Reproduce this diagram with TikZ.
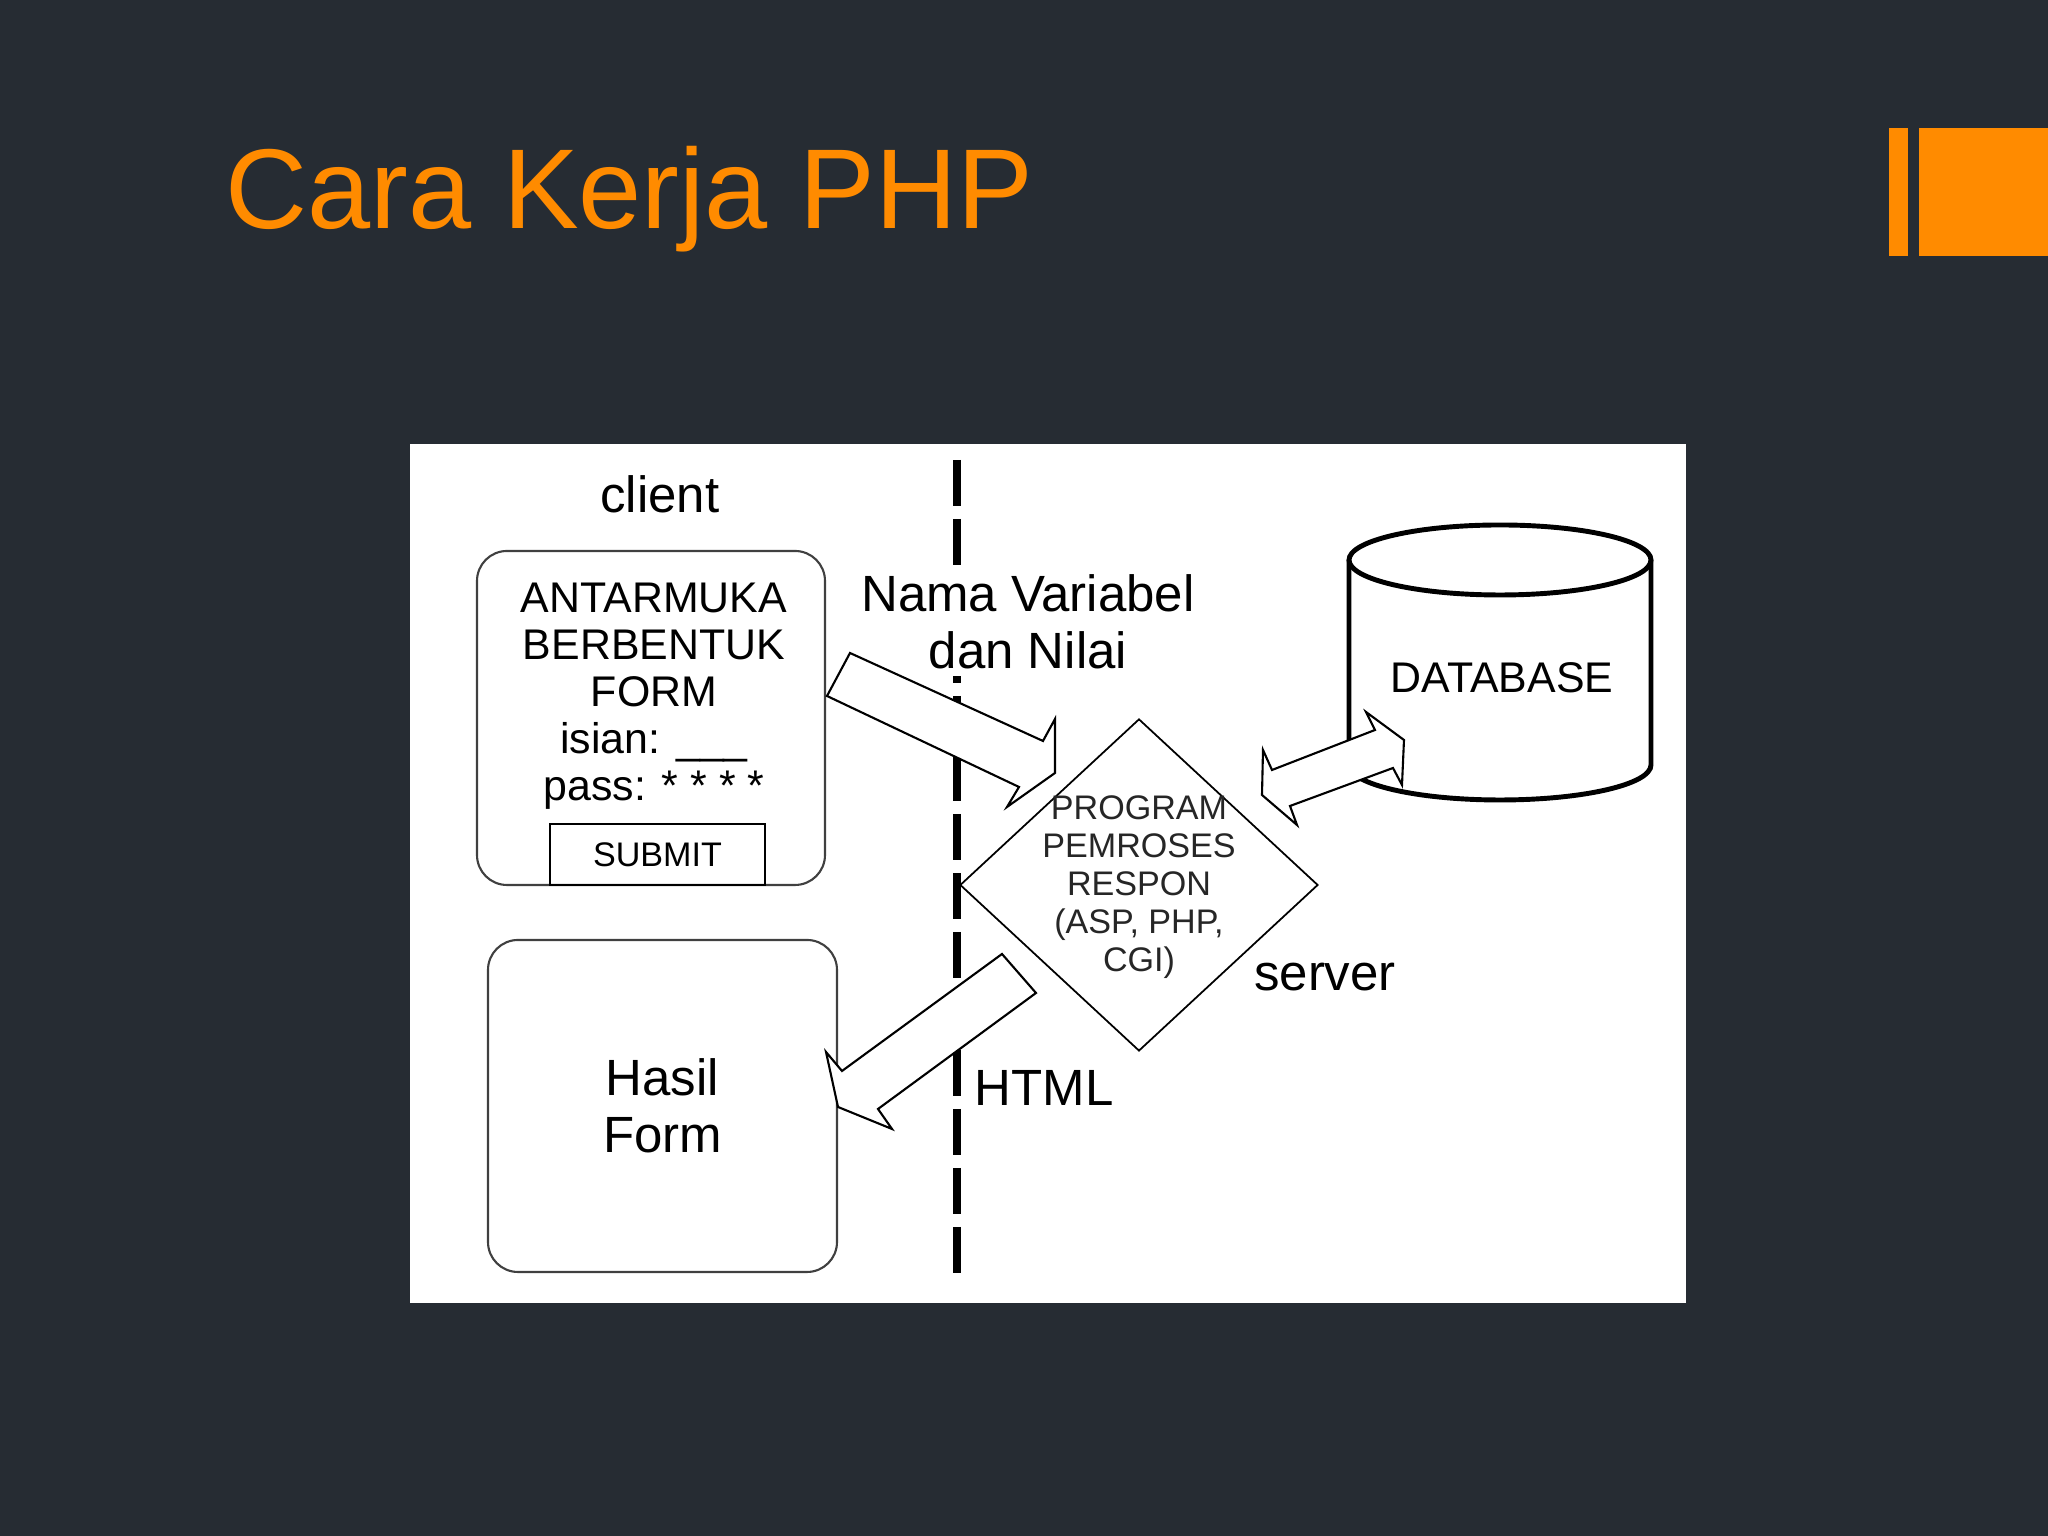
\documentclass[tikz,border=0pt]{standalone}
\usepackage{fontspec}
\setmainfont{Liberation Sans}
\usepackage{xcolor}
\usepackage{tikz}
\usetikzlibrary{positioning,shapes.geometric}
\definecolor{slidebg}{RGB}{38,44,51}
\definecolor{myorange}{RGB}{255,139,0}

\begin{document}
\begin{tikzpicture}[
        rbox/.style={draw=black!75, line width=0.6pt, rounded corners=0.3cm, fill=white},
        lbl/.style={font=\fontsize{14.5}{16.2}\selectfont, align=center, inner sep=2pt},
        formtxt/.style={font=\fontsize{12.2}{13.4}\selectfont, align=center, inner sep=0pt},
        progtxt/.style={font=\fontsize{9.7}{10.8}\selectfont, align=center, inner sep=0pt, text=black!85},
        barrow/.style={draw=black, line width=0.6pt, fill=white, line join=miter},
        cyl/.style={draw=black, line width=1.4pt}
      ]
        \useasboundingbox (0,0) rectangle (20.48,15.36);
        \fill[slidebg] (0,0) rectangle (20.48,15.36);
        % title and corner mark
        \fill[myorange] (18.89,12.80) rectangle (19.08,14.08);
        \fill[myorange] (19.19,12.80) rectangle (20.48,14.08);
        \node[font=\fontsize{32.3}{38}\selectfont, text=myorange, anchor=base west, inner sep=0pt]
              (title) at (2.25,13.07) {Cara Kerja PHP};
        \fill[white] (4.10,2.33) rectangle (16.86,10.92);

        % client / server border
        \coordinate (divtop) at (9.57,10.76);
        \coordinate (divbot) at (9.57,2.59);
        \draw[line width=2pt, dash pattern=on 0.46cm off 0.13cm] (divtop) -- (divbot);

        \node[lbl] (client) at (6.60,10.42) {client};
        \node[rbox, minimum width=3.48cm, minimum height=3.34cm] (form) at (6.51,8.18) {};
        \node[formtxt] (formlbl) at (6.54,8.40)
              {ANTARMUKA\\BERBENTUK\\FORM\\isian: \_\_\_\\pass: * * * *};
        \node[draw, line width=0.6pt, minimum width=2.15cm, minimum height=0.61cm,
              font=\fontsize{9.7}{11}\selectfont, inner sep=0pt] (submit) at (6.575,6.815) {SUBMIT};
        \node[rbox, lbl, minimum width=3.49cm, minimum height=3.32cm] (hasil) at (6.625,4.30) {Hasil\\Form};

        % server side
        \draw[cyl] (13.49,9.76) -- (13.49,7.71)
              arc[start angle=180, end angle=360, x radius=1.51, y radius=0.35] -- (16.51,9.76);
        \draw[cyl] (15.00,9.76) ellipse[x radius=1.51, y radius=0.35];
        \node[formtxt] (db) at (15.02,8.58) {DATABASE};
        \node[diamond, draw, line width=0.5pt, minimum width=3.58cm, minimum height=3.32cm,
              inner sep=0pt] (prog) at (11.39,6.51) {};
        \node[progtxt] (proglbl) at (11.39,6.49) {PROGRAM\\PEMROSES\\RESPON\\(ASP, PHP,\\CGI)};
        \node[lbl] (server) at (13.25,5.59) {server};
        \node[lbl] (html) at (10.44,4.48) {HTML};
        \node[lbl, fill=white] (vars) at (10.28,9.14) {Nama Variabel\\dan Nilai};

        % block arrows
        \draw[barrow] (8.50,8.83) -- (10.43,7.95) -- (10.55,8.17) -- (10.55,7.63)
              -- (10.07,7.29) -- (10.19,7.49) -- (8.27,8.40) -- cycle;
        \draw[barrow] (10.02,5.82) -- (10.36,5.43) -- (8.78,4.27) -- (8.92,4.07)
              -- (8.38,4.29) -- (8.26,4.84) -- (8.42,4.65) -- cycle;
        \draw[barrow] (13.66,8.24) -- (13.75,8.06) -- (12.72,7.66) -- (12.63,7.86)
              -- (12.62,7.41) -- (12.97,7.11) -- (12.90,7.30) -- (13.93,7.68)
              -- (14.02,7.51) -- (14.04,7.96) -- cycle;
      \end{tikzpicture}
\end{document}
